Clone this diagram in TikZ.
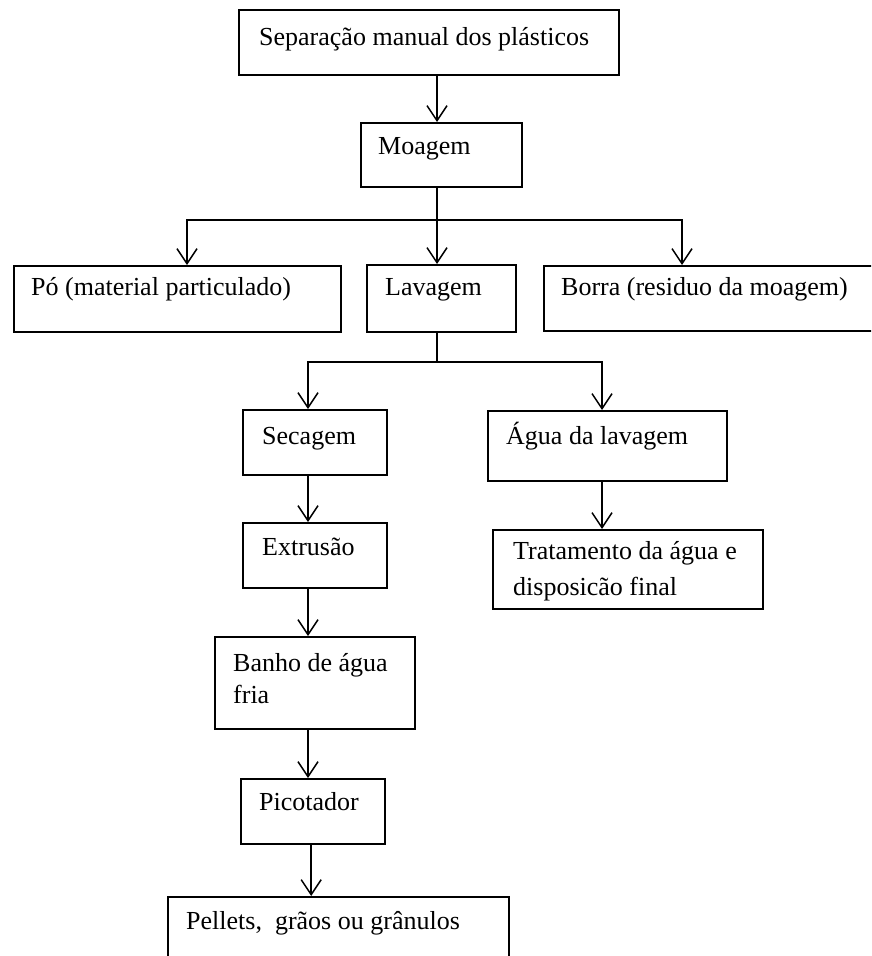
\documentclass[tikz,border=0pt]{standalone}
\usepackage{fontspec}
\setmainfont{Liberation Serif}
\usetikzlibrary{arrows.meta,calc}
\begin{document}
\begin{tikzpicture}[x=1pt,y=-1pt,
  box/.style={draw, line width=1.5pt, inner sep=0pt, anchor=north west},
  lbl/.style={anchor=base west, inner sep=0pt, font=\fontsize{26}{34}\selectfont, align=left},
  conn/.style={line width=1.5pt},
  arr/.style={conn, -{Straight Barb[length=15pt,width=20pt,line width=1.5pt]}}
]
\useasboundingbox (0,0) rectangle (871,956);
\clip (0,0) rectangle (871,956);
% boxes
\node[box, minimum width=380pt, minimum height=65pt] (sep) at (238,9) {};
\node[box, minimum width=161pt, minimum height=64pt] (moa) at (360,122) {};
\node[box, minimum width=327pt, minimum height=66pt] (po)  at (13,265) {};
\node[box, minimum width=149pt, minimum height=67pt] (lav) at (366,264) {};
\node[box, minimum width=337pt, minimum height=65pt] (bor) at (543,265) {};
\node[box, minimum width=144pt, minimum height=65pt] (sec) at (242,409) {};
\node[box, minimum width=239pt, minimum height=70pt] (agu) at (487,410) {};
\node[box, minimum width=144pt, minimum height=65pt] (ext) at (242,522) {};
\node[box, minimum width=270pt, minimum height=79pt] (tra) at (492,529) {};
\node[box, minimum width=200pt, minimum height=92pt] (ban) at (214,636) {};
\node[box, minimum width=144pt, minimum height=65pt] (pic) at (240,778) {};
\node[box, minimum width=341pt, minimum height=84pt] (pel) at (167,896) {};
% texts
\node[lbl] (tsep) at (259,45) {Separação manual dos plásticos};
\node[lbl] (tmoa) at (378,154) {Moagem};
\node[lbl] (tpo)  at (31,295) {Pó (material particulado)};
\node[lbl] (tlav) at (385,295) {Lavagem};
\node[lbl] (tbor) at (561,295) {Borra (residuo da moagem)};
\node[lbl] (tsec) at (262,444) {Secagem};
\node[lbl] (tagu) at (506,444) {Água da lavagem};
\node[lbl] (text) at (262,555) {Extrusão};
\node[lbl] (ttra) at (513,595) {Tratamento da água e\\[2pt]disposicão final};
\node[lbl] (tban) at (233,703) {Banho de água\\[-2pt]fria};
\node[lbl] (tpic) at (259,810) {Picotador};
\node[lbl] (tpel) at (186,929) {Pellets,\ \ grãos ou grânulos};
% helper coordinates
\coordinate (c1) at (437,0);
\coordinate (jm) at (437,220);
\coordinate (jl) at (187,220);
\coordinate (jr) at (682,220);
\coordinate (jv) at (437,362);
\coordinate (xs) at (308,0);
\coordinate (xa) at (602,0);
\coordinate (xp) at (311.2,0);
% connectors
\draw[arr] (sep.south -| c1) -- (moa.north -| c1);
\draw[conn] (moa.south -| c1) -- (jm);
\draw[arr] (jm) -- (lav.north -| jm);
\draw[arr] (jm) -| (po.north -| jl);
\draw[arr] (jm) -| (bor.north -| jr);
\draw[conn] (lav.south -| jv) -- (jv);
\draw[arr] (jv) -| (sec.north -| xs);
\draw[arr] (jv) -| (agu.north -| xa);
\draw[arr] (agu.south -| xa) -- (tra.north -| xa);
\draw[arr] (sec.south -| xs) -- (ext.north -| xs);
\draw[arr] (ext.south -| xs) -- (ban.north -| xs);
\draw[arr] (ban.south -| xs) -- (pic.north -| xs);
\draw[arr] (pic.south -| xp) -- (pel.north -| xp);
\end{tikzpicture}
\end{document}
